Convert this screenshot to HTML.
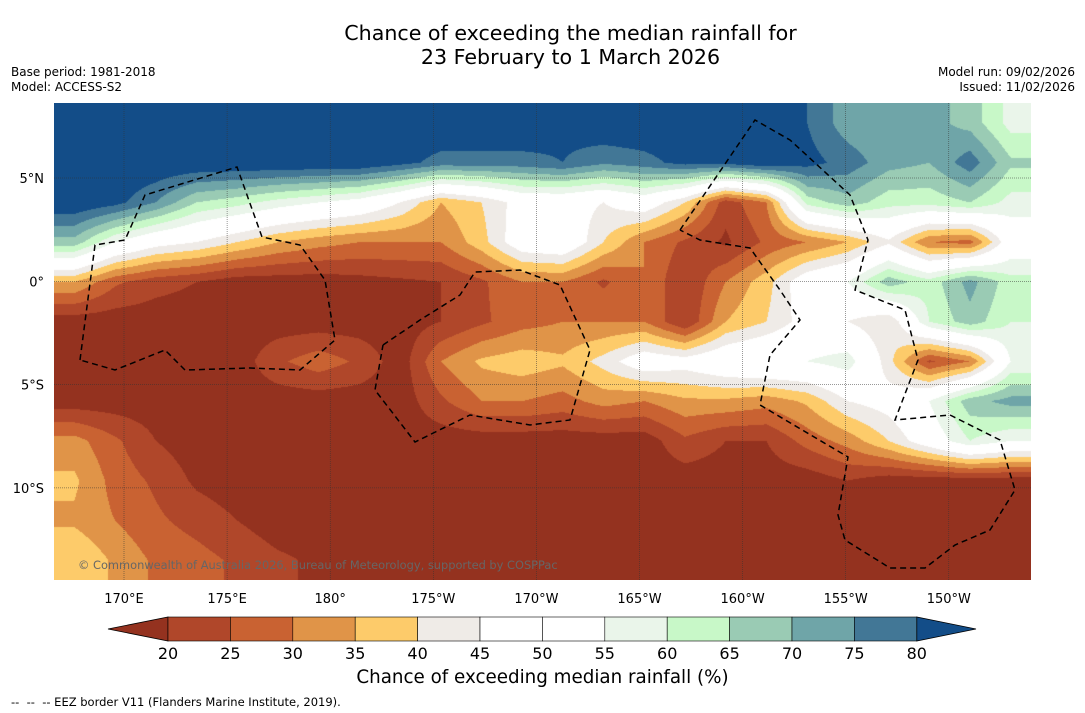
<!DOCTYPE html>
<html><head><meta charset="utf-8"><style>
body{margin:0;background:#fff;width:1085px;height:713px;overflow:hidden;font-family:"DejaVu Sans","Liberation Sans",sans-serif;position:relative}
.t{position:absolute;white-space:nowrap;color:#000}
</style></head><body>
<div class="t" style="left:0;width:1141px;top:21px;text-align:center;font-size:20.6px;line-height:24px">Chance of exceeding the median rainfall for<br>23 February to 1 March 2026</div>
<div class="t" style="left:11px;top:65px;font-size:12px;line-height:15px">Base period: 1981-2018<br>Model: ACCESS-S2</div>
<div class="t" style="right:10px;top:65px;font-size:12px;line-height:15px;text-align:right">Model run: 09/02/2026<br>Issued: 11/02/2026</div>
<canvas id="map" width="977" height="477" style="position:absolute;left:54px;top:103px"></canvas>
<svg id="ov" width="1085" height="713" style="position:absolute;left:0;top:0"></svg>
<div class="t" style="left:78px;top:558px;font-size:11.4px;color:#666">© Commonwealth of Australia 2026, Bureau of Meteorology, supported by COSPPac</div>
<div class="t" style="left:0;width:1085px;text-align:center;top:667px;font-size:18.3px">Chance of exceeding median rainfall (%)</div>
<div class="t" style="left:11px;top:695px;font-size:11.5px">--&nbsp; --&nbsp; -- EEZ border V11 (Flanders Marine Institute, 2019).</div>
<script>
const rowsY=12, colsX=24;
const r0=[85,85,85,85,85,85,85,85,85,85,85,85,82,85,85,85,85,85,80,72,70,72,68,58];
const r1=[85,85,85,85,85,85,85,85,82,78,78,78,80,76,78,82,82,85,82,78,72,70,78,66];
const r2=[85,82,75,65,62,58,55,52,45,35,40,48,48,45,50,40,22,30,62,68,62,62,65,58];
const r3=[68,55,48,45,40,35,32,30,30,30,38,50,52,40,30,24,19,26,30,35,44,30,28,50];
const r4=[35,26,22,20,17,17,17,18,19,20,24,30,30,24,30,20,30,38,50,55,68,62,72,62];
const r5=[17,17,17,17,17,17,17,17,17,20,24,28,30,30,30,20,35,40,48,45,40,60,68,60];
const r6=[17,17,17,17,17,24,28,24,17,30,36,38,36,42,50,48,52,55,55,58,42,24,30,55];
const r7=[17,17,17,17,17,17,17,17,17,24,30,30,28,32,30,34,34,32,36,45,48,55,68,72];
const r8=[32,26,20,17,17,17,17,17,17,17,17,17,17,17,17,24,20,20,27,32,40,50,60,55];
const r9=[36,28,24,19,17,17,17,17,17,17,17,17,17,17,17,17,17,17,17,20,17,17,17,17];
const r10=[34,30,26,23,20,17,17,17,17,17,17,17,17,17,17,17,17,17,17,17,17,17,17,17];
const r11=[40,34,29,27,24,21,19,17,17,17,17,17,17,17,17,17,17,17,17,17,17,17,17,17];
const grid=[r0,r1,r2,r3,r4,r5,r6,r7,r8,r9,r10,r11];
const binEdges=[20,25,30,35,40,45,50,55,60,65,70,75,80];
const binColors=["#94321f","#b0472a","#c96232","#e09448","#fdcb6a","#efebe7","#ffffff","#ffffff","#eaf5ea","#c8f8c8","#9acbb4","#6fa5a8","#427796","#134d88"];
const tickLabels=["20","25","30","35","40","45","50","55","60","65","70","75","80"];
const lonLabels=["170°E","175°E","180°","175°W","170°W","165°W","160°W","155°W","150°W"];
const latLabels=["5°N","0°","5°S","10°S"];

const cv=document.getElementById('map'),ctx=cv.getContext('2d');
const W=977,H=477,cw=W/colsX,ch=H/rowsY;
const img=ctx.createImageData(W,H);
const rgb=binColors.map(c=>[parseInt(c.slice(1,3),16),parseInt(c.slice(3,5),16),parseInt(c.slice(5,7),16)]);
function val(px,py){let gx=(px+.5)/cw-.5,gy=(py+.5)/ch-.5;gx=Math.max(0,Math.min(colsX-1.001,gx));gy=Math.max(0,Math.min(rowsY-1.001,gy));
const i=Math.floor(gx),j=Math.floor(gy),fx=gx-i,fy=gy-j;
return grid[j][i]*(1-fx)*(1-fy)+grid[j][i+1]*fx*(1-fy)+grid[j+1][i]*(1-fx)*fy+grid[j+1][i+1]*fx*fy;}
for(let y=0;y<H;y++)for(let x=0;x<W;x++){const v=val(x,y);let b=0;while(b<binEdges.length&&v>=binEdges[b])b++;const c=rgb[b],k=(y*W+x)*4;img.data[k]=c[0];img.data[k+1]=c[1];img.data[k+2]=c[2];img.data[k+3]=255;}
ctx.putImageData(img,0,0);

const NS='http://www.w3.org/2000/svg',ov=document.getElementById('ov');
const FF='DejaVu Sans, Liberation Sans, sans-serif';
function mk(t,a){const e=document.createElementNS(NS,t);for(const k in a)e.setAttribute(k,a[k]);ov.appendChild(e);return e;}
const lonX=i=>124+i*103.1, latY=i=>178+i*103.3;
lonLabels.forEach((l,i)=>{const x=lonX(i);
const g=mk('line',{x1:x,y1:103,x2:x,y2:580,stroke:'#333','stroke-width':0.5,'stroke-dasharray':'1,1'});


const t=mk('text',{x:x,y:603,'text-anchor':'middle','font-size':13,'font-family':FF});t.textContent=l;

});
latLabels.forEach((l,i)=>{const y=latY(i);
const g=mk('line',{x1:54,y1:y,x2:1031,y2:y,stroke:'#333','stroke-width':0.5,'stroke-dasharray':'1,1'});


const t=mk('text',{x:44,y:y+5,'text-anchor':'end','font-size':13,'font-family':FF});t.textContent=l;

});
const eez=["80,360 95,245 125,240 145,195 237,167 262,237 300,245 325,280 335,340 300,370 250,368 185,370 165,350 115,370 80,360",
"383,345 420,320 460,295 475,272 520,270 560,285 590,350 570,420 530,425 470,415 415,442 375,390 383,345",
"680,230 755,120 790,140 850,195 868,240 855,290 905,310 918,360 895,420 950,415 1000,440 1015,490 990,530 955,545 925,568 890,568 845,540 838,515 848,457 760,405 770,355 800,320 780,290 750,248 700,240 680,230"];
eez.forEach(p=>{const e=mk('polyline',{points:p,fill:'none',stroke:'#000','stroke-width':1.5,'stroke-dasharray':'6,4'});

});
const cbX0=168,cbW=62.4,cbY=617,cbH=24;
mk('polygon',{points:`108,629 ${cbX0},${cbY} ${cbX0},${cbY+cbH}`,fill:binColors[0],stroke:'#000','stroke-width':0.8});
for(let i=0;i<12;i++){const r=mk('rect',{x:cbX0+i*cbW,y:cbY,width:cbW,height:cbH,fill:binColors[i+1],stroke:'#000','stroke-width':0.6});

}
const xe=cbX0+12*cbW;
mk('polygon',{points:`${xe},${cbY} ${xe},${cbY+cbH} 976,629`,fill:binColors[13],stroke:'#000','stroke-width':0.8});
tickLabels.forEach((l,i)=>{const t=mk('text',{x:cbX0+i*cbW,y:659,'text-anchor':'middle','font-size':16,'font-family':FF});t.textContent=l;

});
</script>
</body></html>
